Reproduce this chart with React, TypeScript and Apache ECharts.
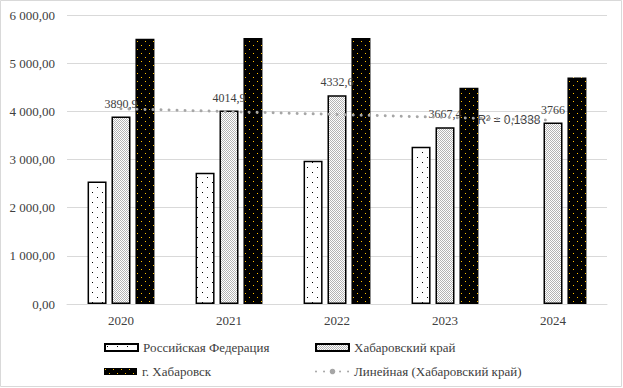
import React, { useEffect, useRef } from "react";
import * as echarts from "echarts";

const years = ["2020", "2021", "2022", "2023", "2024"];
const russia: (number | null)[] = [2545, 2725, 2975, 3265, null];
const khabKrai = [3890.9, 4014.9, 4332.6, 3667.4, 3766];
const khabCity = [5505, 5525, 5525, 4490, 4700];
const yTicks = [0, 1000, 2000, 3000, 4000, 5000, 6000];
const r2Text = "R² = 0,1338";

const names = {
  ru: "Российская Федерация",
  kk: "Хабаровский край",
  city: "г. Хабаровск",
  trend: "Линейная (Хабаровский край)",
};

function linearTrend(vals: number[]): number[] {
  const n = vals.length;
  const xs = vals.map((_, i) => i + 1);
  const mx = xs.reduce((a, b) => a + b, 0) / n;
  const my = vals.reduce((a, b) => a + b, 0) / n;
  let num = 0;
  let den = 0;
  for (let i = 0; i < n; i++) {
    num += (xs[i] - mx) * (vals[i] - my);
    den += (xs[i] - mx) * (xs[i] - mx);
  }
  const slope = num / den;
  return xs.map((x) => +(my + slope * (x - mx)).toFixed(2));
}

function makePattern(
  size: number,
  bg: string,
  fg: string,
  dots: [number, number][]
): HTMLCanvasElement {
  const c = document.createElement("canvas");
  c.width = size;
  c.height = size;
  const ctx = c.getContext("2d")!;
  ctx.fillStyle = bg;
  ctx.fillRect(0, 0, size, size);
  ctx.fillStyle = fg;
  dots.forEach(([x, y]) => ctx.fillRect(x, y, 1, 1));
  return c;
}

function fmtAxis(v: number): string {
  const s = v.toFixed(2);
  const [int, dec] = s.split(".");
  return int.replace(/\B(?=(\d{3})+(?!\d))/g, " ") + "," + dec;
}

export default function App() {
  const ref = useRef<HTMLDivElement>(null);
  useEffect(() => {
    if (!ref.current) return;
    const chart = echarts.init(ref.current, undefined, { renderer: "svg" });
    const ruPat = makePattern(10, "#ffffff", "#000000", [
      [2, 2],
      [7, 7],
    ]);
    const kkPat = makePattern(2, "#ffffff", "#b4b4b4", [
      [0, 0],
      [1, 1],
    ]);
    const cityPat = makePattern(8, "#000000", "#ffc000", [
      [1, 1],
      [5, 5],
    ]);
    const trend = linearTrend(khabKrai);
    const last = trend.length - 1;
    const serif = "'Liberation Serif', 'Times New Roman', serif";
    const legendText = { fontFamily: serif, fontSize: 13, color: "#404040" };
    const legendBase = {
      itemWidth: 33,
      itemHeight: 7,
      textStyle: legendText,
      selectedMode: false,
    };
    chart.setOption({
      animation: false,
      backgroundColor: "#ffffff",
      grid: { left: 67, right: 16, top: 15, bottom: 84 },
      xAxis: {
        type: "category",
        data: years,
        axisLine: { lineStyle: { color: "#d9d9d9", width: 1 } },
        axisTick: { show: false },
        axisLabel: {
          fontFamily: serif,
          fontSize: 13,
          color: "#404040",
          margin: 10,
        },
      },
      yAxis: {
        type: "value",
        min: yTicks[0],
        max: yTicks[yTicks.length - 1],
        interval: 1000,
        axisLine: { show: false },
        axisTick: { show: false },
        splitLine: { lineStyle: { color: "#d9d9d9", width: 1 } },
        axisLabel: {
          fontFamily: serif,
          fontSize: 13,
          color: "#404040",
          margin: 12,
          formatter: (v: number) => fmtAxis(v),
        },
      },
      legend: [
        { ...legendBase, icon: "rect", data: [names.ru], left: 99, top: 336 },
        { ...legendBase, icon: "rect", data: [names.kk], left: 310, top: 336 },
        { ...legendBase, icon: "rect", data: [names.city], left: 99, top: 360 },
        { ...legendBase, data: [names.trend], left: 310, top: 360 },
      ],
      graphic: [
        {
          type: "rect",
          shape: { x: 0.5, y: 0.5, width: 621, height: 386 },
          style: { fill: "none", stroke: "#d9d9d9", lineWidth: 1 },
          silent: true,
        },
      ],
      series: [
        {
          name: names.ru,
          type: "bar",
          data: russia,
          barWidth: 19,
          barGap: "26%",
          itemStyle: {
            color: { image: ruPat, repeat: "repeat" },
            borderColor: "#000000",
            borderWidth: 1.5,
          },
        },
        {
          name: names.kk,
          type: "bar",
          data: khabKrai,
          barWidth: 19,
          barGap: "26%",
          itemStyle: {
            color: { image: kkPat, repeat: "repeat" },
            borderColor: "#000000",
            borderWidth: 1.5,
          },
          label: {
            show: true,
            position: "top",
            distance: 7,
            fontFamily: serif,
            fontSize: 12,
            color: "#404040",
            formatter: (p: any) => String(p.value).replace(".", ","),
          },
        },
        {
          name: names.city,
          type: "bar",
          data: khabCity,
          barWidth: 19,
          barGap: "26%",
          itemStyle: {
            color: { image: cityPat, repeat: "repeat" },
            borderWidth: 0,
          },
        },
        {
          name: names.trend,
          type: "line",
          data: trend,
          symbol: "none",
          z: 5,
          lineStyle: {
            color: "#a6a6a6",
            width: 3,
            type: [0.01, 8],
            cap: "round",
          },
          itemStyle: { color: "#a6a6a6" },
          markPoint: {
            silent: true,
            symbol: "circle",
            symbolSize: 1,
            itemStyle: { color: "rgba(0,0,0,0)" },
            data: [
              {
                coord: [last, trend[last]],
                label: {
                  show: true,
                  position: "left",
                  distance: 12,
                  formatter: () => r2Text,
                  fontFamily: "'Liberation Sans', Arial, sans-serif",
                  fontSize: 12,
                  color: "#404040",
                },
              },
            ],
          },
        },
      ],
    });
    return () => chart.dispose();
  }, []);
  return (
    <div
      ref={ref}
      style={{ position: "fixed", left: 0, top: 0, width: 623, height: 388 }}
    />
  );
}
